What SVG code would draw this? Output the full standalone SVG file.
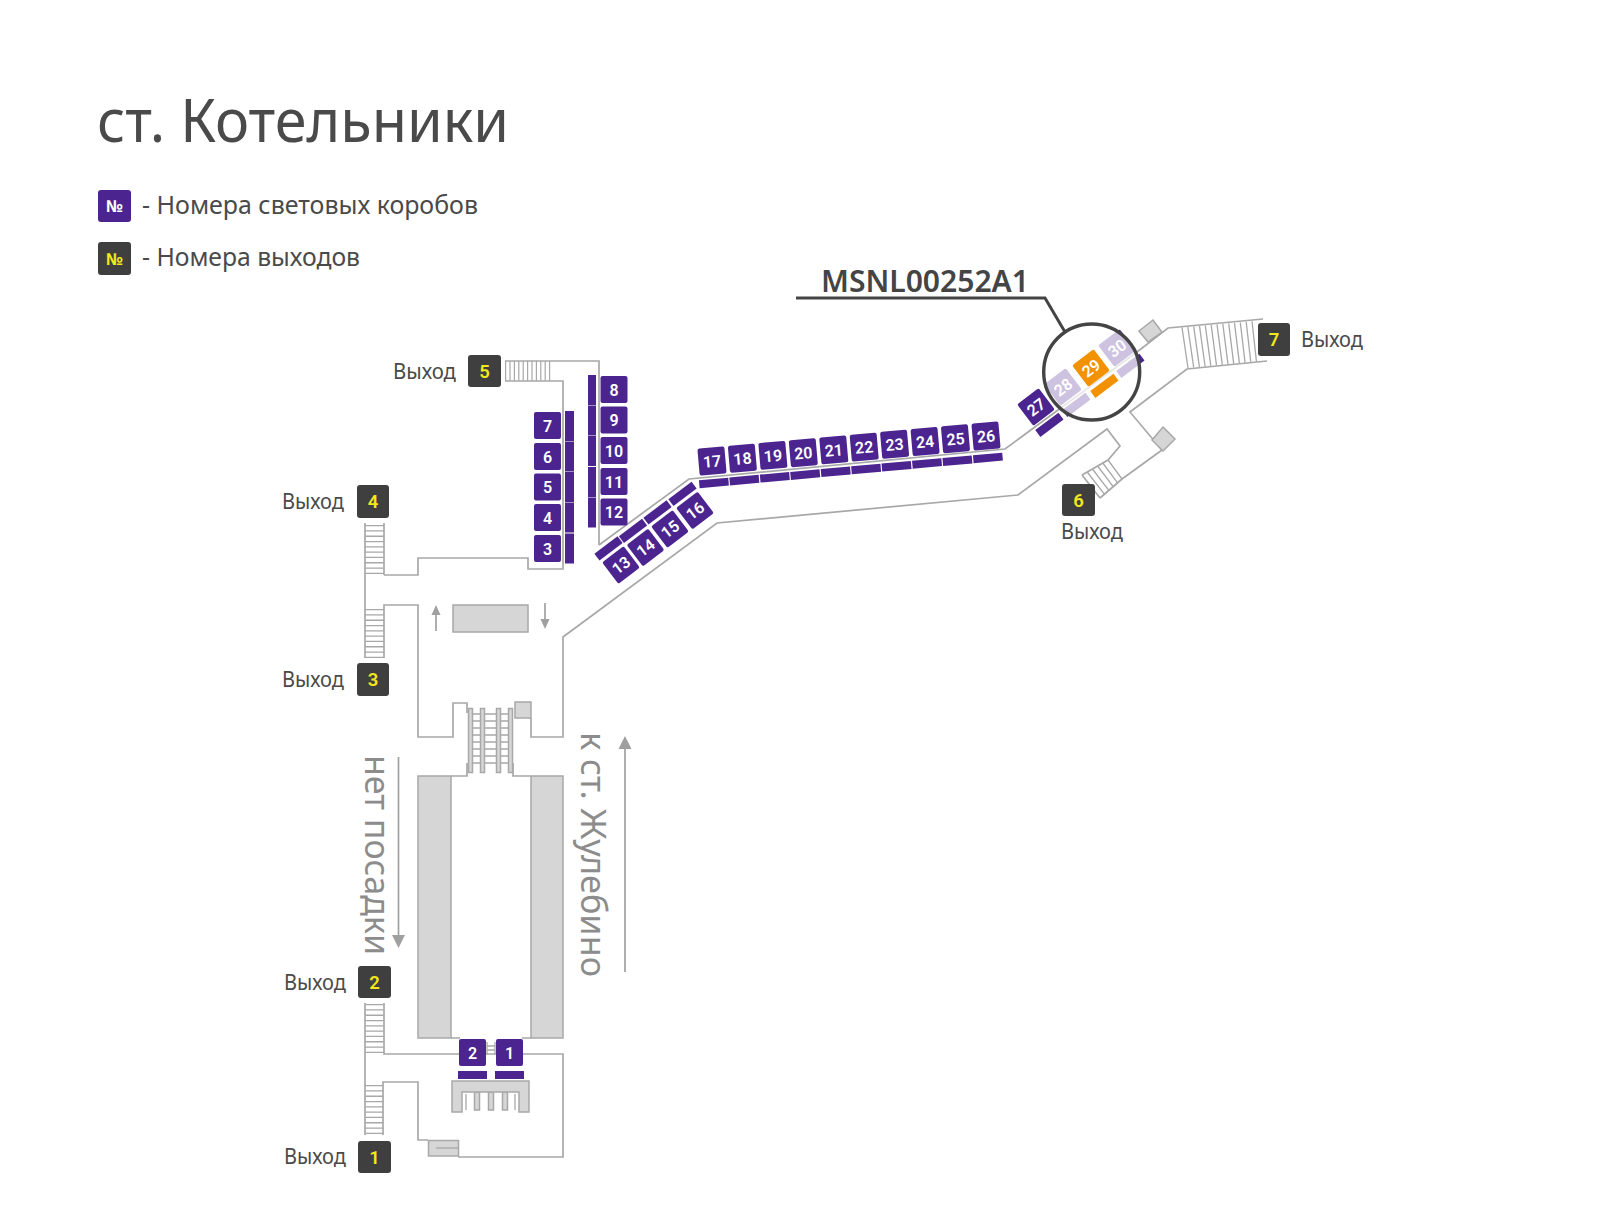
<svg xmlns="http://www.w3.org/2000/svg" width="1600" height="1216" viewBox="0 0 1600 1216">
<style>
text{font-family:"Noto Sans","Liberation Sans",sans-serif;fill:#4a4a4a}
.wall{fill:none;stroke:#a8a8a8;stroke-width:1.7}
.rung{fill:none;stroke:#a8a8a8;stroke-width:1.3}
.solid{fill:#d6d6d6;stroke:#a8a8a8;stroke-width:1.5}
.box{fill:#4b2490}
.org{fill:#f39200}
.exit{fill:#3f3f3f}
.n{font-family:"Roboto","Liberation Sans",sans-serif;font-weight:600;font-size:16px;fill:#fff;text-anchor:middle}
.x{font-family:"Roboto","Liberation Sans",sans-serif;font-weight:600;font-size:18.5px;fill:#f2e81c;text-anchor:middle}
.no{font-family:"Noto Sans",sans-serif;font-weight:700;font-size:16.5px;text-anchor:middle}
.lab{font-size:22px}
.leg{font-size:25px}
.gr{font-size:35px;fill:#8c8c8c}
.arr{fill:none;stroke:#a0a0a0;stroke-width:1.7}
.lead{fill:none;stroke:#444;stroke-width:3}
</style>
<defs>
<marker id="big" markerUnits="userSpaceOnUse" markerWidth="13" markerHeight="14" refX="1" refY="7" orient="auto"><path d="M0 0.5L13 7L0 13.5z" fill="#a0a0a0"/></marker>
<marker id="small" markerUnits="userSpaceOnUse" markerWidth="10" markerHeight="10" refX="1" refY="5" orient="auto"><path d="M0 0.5L10 5L0 9.5z" fill="#a0a0a0"/></marker>
</defs>
<rect width="1600" height="1216" fill="#fff"/>
<text id="title" x="97" y="142" font-size="60" textLength="412" lengthAdjust="spacingAndGlyphs">ст. Котельники</text>
<g id="legend-boxes"><rect class="box" x="98" y="190" width="33" height="32" rx="3"/><text class="no" x="114.5" y="212" fill="#fff" style="fill:#fff">№</text><text class="leg" x="142" y="214" textLength="336" lengthAdjust="spacingAndGlyphs">- Номера световых коробов</text></g>
<g id="legend-exits"><rect class="exit" x="98" y="242" width="33" height="33" rx="3"/><text class="no" x="114.5" y="265" style="fill:#f2e81c">№</text><text class="leg" x="142" y="266" textLength="218" lengthAdjust="spacingAndGlyphs">- Номера выходов</text></g>
<g id="plan">
<path class="wall" d="M384 575H418V558H528V569H563V381H505M505 361H599V545M365 523V658M384 523V575M384 609V658M384 658V605H418V737H453V703H467V713M531 718V737H563V637L717 523L1018 495L1107 429L1120 446L1108 460L1082 475M1100 498L1122 479L1162 450L1130 412L1187 369L1267 361M1263 319L1168 328L1137 352L1005 449L689 479L599 545M1082 475L1100 498M451 776H467V763M513 763V776H531M384 1003V1054H563V1157H458M365 1003V1135M383 1135V1082H418V1140H428M451 1038H460M522 1038H531"/>
<line class="rung" x1="374.5" y1="525" x2="374.5" y2="575" style="stroke-width:19;stroke-dasharray:1.3 4"/>
<line class="rung" x1="374.5" y1="609" x2="374.5" y2="658" style="stroke-width:19;stroke-dasharray:1.3 4"/>
<line class="rung" x1="374.5" y1="1004" x2="374.5" y2="1054" style="stroke-width:18;stroke-dasharray:1.3 4"/>
<line class="rung" x1="374.5" y1="1085" x2="374.5" y2="1135" style="stroke-width:18;stroke-dasharray:1.3 4"/>
<line class="rung" x1="505" y1="371" x2="553" y2="371" style="stroke-width:20;stroke-dasharray:1.2 3.2"/>
<path class="rung" d="M1182 327.3L1188 368M1187.8 326.8L1193.7 367.4M1193.7 326.3L1199.4 366.9M1199.5 325.8L1205.1 366.4M1205.3 325.3L1210.8 365.9M1211.2 324.8L1216.5 365.4M1217 324.3L1222.3 364.9M1222.8 323.8L1228 364.4M1228.7 323.3L1233.7 363.9M1234.5 322.8L1239.4 363.4M1240.3 322.3L1245.1 362.9M1246.2 321.8L1250.8 362.4M1252 321.3L1256.5 361.9"/>
<path class="rung" d="M1087.2 472L1104.4 494.2M1092.4 469L1108.8 490.4M1097.6 466L1113.2 486.6M1102.8 463L1117.6 482.8M1108 460L1122 479"/>
<path class="solid" d="M1139 331L1153 320L1162 332L1148 342zM1163 427L1175 439L1163 451L1152 440z"/>
<rect class="solid" x="453" y="605" width="75" height="27"/>
<rect class="solid" x="515" y="702" width="16" height="16"/>
<rect class="solid" x="418" y="776" width="33" height="262"/>
<rect class="solid" x="531" y="776" width="32" height="262"/>
<g id="escalator">
<path class="rung" d="M473 714H480M473 721H480M473 728H480M473 735H480M473 742H480M473 749H480M473 756H480M473 763H480M485 714H496M485 721H496M485 728H496M485 735H496M485 742H496M485 749H496M485 756H496M485 763H496M501 714H508M501 721H508M501 728H508M501 735H508M501 742H508M501 749H508M501 756H508M501 763H508"/>
<rect class="solid" x="468.5" y="708.5" width="4" height="64"/><rect class="solid" x="480.5" y="708.5" width="4" height="64"/><rect class="solid" x="496.5" y="708.5" width="4" height="64"/><rect class="solid" x="508.5" y="708.5" width="4" height="64"/>
</g>
<path class="rung" d="M487 1042V1055M495 1042V1055M487 1046H495M487 1050H495"/>
<path class="solid" d="M474.5 1092H479.5V1110H474.5zM488.5 1092H493.5V1110H488.5zM502.5 1092H507.5V1110H502.5z"/>
<path class="solid" d="M452 1081H529V1112H519V1092H462V1112H452z"/>
<path class="rung" d="M466 1094V1110M515 1094V1110"/>
<rect class="solid" x="428.5" y="1140.5" width="30" height="15.5"/><path class="rung" d="M436 1148H459"/>
</g>
<g id="connectors">
<line class="arr" x1="398.5" y1="757" x2="398.5" y2="936" marker-end="url(#big)"/>
<line class="arr" x1="625" y1="972" x2="625" y2="748" marker-end="url(#big)"/>
<line class="arr" x1="436" y1="631" x2="436" y2="614" marker-end="url(#small)"/>
<line class="arr" x1="545" y1="603" x2="545" y2="620" marker-end="url(#small)"/>
</g>
<text class="gr" transform="translate(365 755) rotate(90)" textLength="200" lengthAdjust="spacingAndGlyphs">нет посадки</text>
<text class="gr" transform="translate(581 732) rotate(90)" textLength="245" lengthAdjust="spacingAndGlyphs">к ст. Жулебино</text>
<g id="exit-1"><rect class="exit" x="358" y="1141" width="33" height="32" rx="3"/><text class="x" x="374.5" y="1164">1</text><text class="lab" x="284" y="1164" textLength="62" lengthAdjust="spacingAndGlyphs">Выход</text></g>
<g id="exit-2"><rect class="exit" x="358" y="966" width="33" height="32" rx="3"/><text class="x" x="374.5" y="989">2</text><text class="lab" x="284" y="990" textLength="62" lengthAdjust="spacingAndGlyphs">Выход</text></g>
<g id="exit-3"><rect class="exit" x="357" y="663" width="32" height="33" rx="3"/><text class="x" x="373" y="686">3</text><text class="lab" x="282" y="687" textLength="62" lengthAdjust="spacingAndGlyphs">Выход</text></g>
<g id="exit-4"><rect class="exit" x="357" y="485" width="32" height="33" rx="3"/><text class="x" x="373" y="508">4</text><text class="lab" x="282" y="509" textLength="62" lengthAdjust="spacingAndGlyphs">Выход</text></g>
<g id="exit-5"><rect class="exit" x="468" y="355" width="33" height="32" rx="3"/><text class="x" x="484.5" y="378">5</text><text class="lab" x="393" y="379" textLength="63" lengthAdjust="spacingAndGlyphs">Выход</text></g>
<g id="exit-6"><rect class="exit" x="1062" y="484" width="33" height="32" rx="3"/><text class="x" x="1078.5" y="507">6</text><text class="lab" x="1061" y="539" textLength="62" lengthAdjust="spacingAndGlyphs">Выход</text></g>
<g id="exit-7"><rect class="exit" x="1258" y="323" width="32" height="33" rx="3"/><text class="x" x="1274" y="346">7</text><text class="lab" x="1301" y="347" textLength="62" lengthAdjust="spacingAndGlyphs">Выход</text></g>
<g id="box-1" transform="translate(509.5 1052.5)"><rect class="box" x="-13.5" y="-13.5" width="27" height="27" rx="2"/><text class="n" y="6">1</text><rect class="box" x="-14.5" y="18.5" width="29" height="8"/></g>
<g id="box-2" transform="translate(472.5 1052.5)"><rect class="box" x="-13.5" y="-13.5" width="27" height="27" rx="2"/><text class="n" y="6">2</text><rect class="box" x="-14.5" y="18.5" width="29" height="8"/></g>
<g id="box-3" transform="translate(547.5 548.5)"><rect class="box" x="-13.5" y="-13.5" width="27" height="27" rx="2"/><text class="n" y="6">3</text><rect class="box" x="17.5" y="-15" width="9" height="30"/></g>
<g id="box-4" transform="translate(547.5 517.5)"><rect class="box" x="-13.5" y="-13.5" width="27" height="27" rx="2"/><text class="n" y="6">4</text><rect class="box" x="17.5" y="-15" width="9" height="30"/></g>
<g id="box-5" transform="translate(547.5 487)"><rect class="box" x="-13.5" y="-13.5" width="27" height="27" rx="2"/><text class="n" y="6">5</text><rect class="box" x="17.5" y="-15" width="9" height="30"/></g>
<g id="box-6" transform="translate(547.5 456.5)"><rect class="box" x="-13.5" y="-13.5" width="27" height="27" rx="2"/><text class="n" y="6">6</text><rect class="box" x="17.5" y="-15" width="9" height="30"/></g>
<g id="box-7" transform="translate(547.5 425.5)"><rect class="box" x="-13.5" y="-13.5" width="27" height="27" rx="2"/><text class="n" y="6">7</text><rect class="box" x="17.5" y="-14.5" width="9" height="30"/></g>
<g id="box-8" transform="translate(614 389.5)"><rect class="box" x="-13.5" y="-13.5" width="27" height="27" rx="2"/><text class="n" y="6">8</text><rect class="box" x="-26" y="-14.5" width="8" height="30"/></g>
<g id="box-9" transform="translate(614 420)"><rect class="box" x="-13.5" y="-13.5" width="27" height="27" rx="2"/><text class="n" y="6">9</text><rect class="box" x="-26" y="-14.5" width="8" height="30"/></g>
<g id="box-10" transform="translate(614 450.5)"><rect class="box" x="-13.5" y="-13.5" width="27" height="27" rx="2"/><text class="n" y="6">10</text><rect class="box" x="-26" y="-14.5" width="8" height="30"/></g>
<g id="box-11" transform="translate(614 481.5)"><rect class="box" x="-13.5" y="-13.5" width="27" height="27" rx="2"/><text class="n" y="6">11</text><rect class="box" x="-26" y="-14.5" width="8" height="30"/></g>
<g id="box-12" transform="translate(614 512)"><rect class="box" x="-13.5" y="-13.5" width="27" height="27" rx="2"/><text class="n" y="6">12</text><rect class="box" x="-26" y="-14.5" width="8" height="30"/></g>
<g id="box-13" transform="translate(621 565) rotate(-37)"><rect class="box" x="-13.5" y="-13.5" width="27" height="27" rx="2"/><text class="n" y="6">13</text><rect class="box" x="-14.5" y="-25" width="29" height="8.5"/></g>
<g id="box-14" transform="translate(645.5 547.5) rotate(-37)"><rect class="box" x="-13.5" y="-13.5" width="27" height="27" rx="2"/><text class="n" y="6">14</text><rect class="box" x="-14.5" y="-25" width="29" height="8.5"/></g>
<g id="box-15" transform="translate(670 529) rotate(-37)"><rect class="box" x="-13.5" y="-13.5" width="27" height="27" rx="2"/><text class="n" y="6">15</text><rect class="box" x="-14.5" y="-25" width="29" height="8.5"/></g>
<g id="box-16" transform="translate(695 510.5) rotate(-37)"><rect class="box" x="-13.5" y="-13.5" width="27" height="27" rx="2"/><text class="n" y="6">16</text><rect class="box" x="-14.5" y="-25" width="29" height="8.5"/></g>
<g id="box-17" transform="translate(712 461) rotate(-5)"><rect class="box" x="-13.5" y="-13.5" width="27" height="27" rx="2"/><text class="n" y="6">17</text><rect class="box" x="-14.7" y="18" width="29.4" height="8"/></g>
<g id="box-18" transform="translate(742.4 458.2) rotate(-5)"><rect class="box" x="-13.5" y="-13.5" width="27" height="27" rx="2"/><text class="n" y="6">18</text><rect class="box" x="-14.7" y="18" width="29.4" height="8"/></g>
<g id="box-19" transform="translate(772.9 455.4) rotate(-5)"><rect class="box" x="-13.5" y="-13.5" width="27" height="27" rx="2"/><text class="n" y="6">19</text><rect class="box" x="-14.7" y="18" width="29.4" height="8"/></g>
<g id="box-20" transform="translate(803.3 452.7) rotate(-5)"><rect class="box" x="-13.5" y="-13.5" width="27" height="27" rx="2"/><text class="n" y="6">20</text><rect class="box" x="-14.7" y="18" width="29.4" height="8"/></g>
<g id="box-21" transform="translate(833.8 449.9) rotate(-5)"><rect class="box" x="-13.5" y="-13.5" width="27" height="27" rx="2"/><text class="n" y="6">21</text><rect class="box" x="-14.7" y="18" width="29.4" height="8"/></g>
<g id="box-22" transform="translate(864.2 447.1) rotate(-5)"><rect class="box" x="-13.5" y="-13.5" width="27" height="27" rx="2"/><text class="n" y="6">22</text><rect class="box" x="-14.7" y="18" width="29.4" height="8"/></g>
<g id="box-23" transform="translate(894.6 444.3) rotate(-5)"><rect class="box" x="-13.5" y="-13.5" width="27" height="27" rx="2"/><text class="n" y="6">23</text><rect class="box" x="-14.7" y="18" width="29.4" height="8"/></g>
<g id="box-24" transform="translate(925.1 441.5) rotate(-5)"><rect class="box" x="-13.5" y="-13.5" width="27" height="27" rx="2"/><text class="n" y="6">24</text><rect class="box" x="-14.7" y="18" width="29.4" height="8"/></g>
<g id="box-25" transform="translate(955.5 438.8) rotate(-5)"><rect class="box" x="-13.5" y="-13.5" width="27" height="27" rx="2"/><text class="n" y="6">25</text><rect class="box" x="-14.7" y="18" width="29.4" height="8"/></g>
<g id="box-26" transform="translate(986 436) rotate(-5)"><rect class="box" x="-13.5" y="-13.5" width="27" height="27" rx="2"/><text class="n" y="6">26</text><rect class="box" x="-14.7" y="18" width="29.4" height="8"/></g>
<g id="box-27" transform="translate(1036 407) rotate(-37)"><rect class="box" x="-13.5" y="-13.5" width="27" height="27" rx="2"/><text class="n" y="6">27</text><rect class="box" x="-14.5" y="18" width="29" height="8.5"/></g>
<g id="box-28" transform="translate(1063 387) rotate(-37)"><rect class="box" x="-13.5" y="-13.5" width="27" height="27" rx="2"/><text class="n" y="6">28</text><rect class="box" x="-14.5" y="18" width="29" height="8.5"/></g>
<g id="box-30" transform="translate(1117 348) rotate(-37)"><rect class="box" x="-13.5" y="-13.5" width="27" height="27" rx="2"/><text class="n" y="6">30</text><rect class="box" x="-14.5" y="18" width="29" height="8.5"/></g>
<g id="callout">
<circle cx="1091.7" cy="372" r="48" fill="#fff" fill-opacity=".72" stroke="#444" stroke-width="3.4"/>
<path class="lead" d="M796 298H1045L1065 332"/>
<text x="821" y="292" font-size="30" font-weight="600" style="fill:#444" textLength="208" lengthAdjust="spacingAndGlyphs">MSNL00252A1</text>
</g>
<g id="box-29" transform="translate(1091 368) rotate(-37)"><rect class="org" x="-13.5" y="-13.5" width="27" height="27" rx="2"/><text class="n" y="6">29</text><rect class="org" x="-14.5" y="18" width="29" height="8.5"/></g>
</svg>
